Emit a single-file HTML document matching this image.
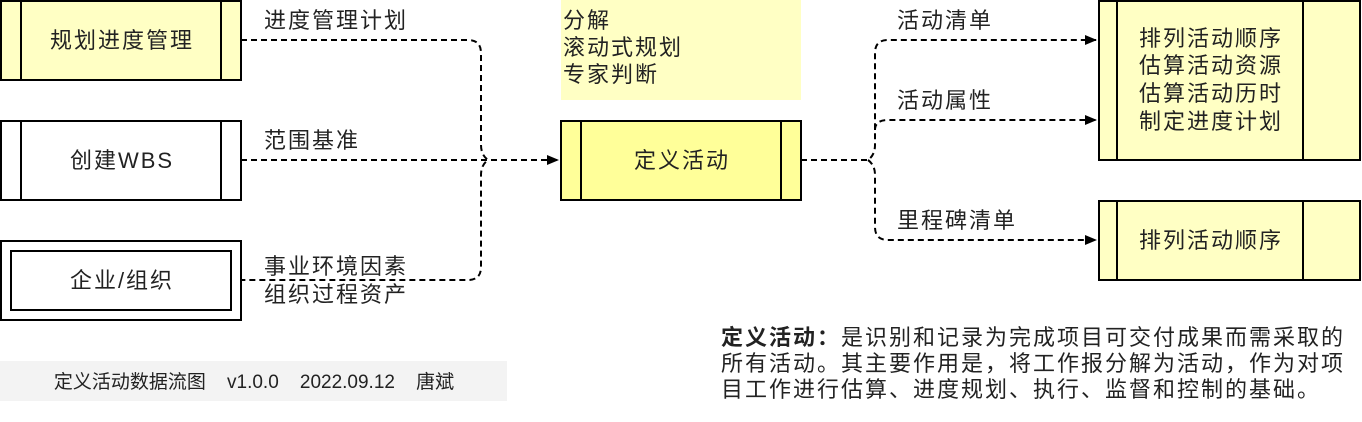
<!DOCTYPE html>
<html><head><meta charset="utf-8"><style>
body{margin:0;width:1362px;height:422px;overflow:hidden;background:#fff;font-family:"Liberation Sans","Noto Sans CJK SC",sans-serif;}
svg text{font-family:"Liberation Sans","Noto Sans CJK SC",sans-serif;fill:#222;}
.desc{position:absolute;left:721px;top:325px;width:634px;font-size:22px;letter-spacing:2px;line-height:26px;color:#222;}
</style></head><body>
<svg width="1362" height="422" style="position:absolute;left:0;top:0">
<defs><marker id="a" markerWidth="12" markerHeight="10" refX="11" refY="5" orient="auto" markerUnits="userSpaceOnUse"><path d="M0,0 L12,5 L0,10 Z" fill="#000"/></marker></defs>
<g stroke="#000" stroke-width="2">
<rect x="1" y="1" width="240" height="79" fill="#ffffc4"/>
<line x1="21" y1="1" x2="21" y2="80"/><line x1="221" y1="1" x2="221" y2="80"/>
<rect x="1" y="121" width="240" height="79" fill="#fff"/>
<line x1="21" y1="121" x2="21" y2="200"/><line x1="221" y1="121" x2="221" y2="200"/>
<rect x="1" y="241" width="240" height="79" fill="#fff"/>
<rect x="11" y="251" width="220" height="59" fill="#fff"/>
<rect x="561" y="121" width="240" height="79" fill="#ffff99"/>
<line x1="581" y1="121" x2="581" y2="200"/><line x1="781" y1="121" x2="781" y2="200"/>
<rect x="1099" y="1" width="261" height="159" fill="#ffffc4"/>
<line x1="1117" y1="1" x2="1117" y2="160"/><line x1="1303" y1="1" x2="1303" y2="160"/>
<rect x="1099" y="201" width="261" height="79" fill="#ffffc4"/>
<line x1="1117" y1="201" x2="1117" y2="280"/><line x1="1303" y1="201" x2="1303" y2="280"/>
</g>
<rect x="561" y="0" width="240" height="100" fill="#ffffc4"/>
<rect x="0" y="361" width="507" height="40" fill="#f3f3f3"/>
<g fill="none" stroke="#000" stroke-width="2" stroke-dasharray="6,4">
<path d="M241,40 H468 Q481,40 481,53 V145 Q481,155 488,160 Q481,165 481,175 V267 Q481,280 468,280 H241"/>
<path d="M241,160 H558" marker-end="url(#a)"/>
<path d="M801,160 H868 Q875,155 875,145 V53 Q875,40 888,40 H1096" marker-end="url(#a)"/>
<path d="M875,130 Q875,120 888,120 H1096" marker-end="url(#a)"/>
<path d="M868,160 Q875,165 875,175 V227 Q875,240 888,240 H1096" marker-end="url(#a)"/>
</g>
<g font-size="22" letter-spacing="2">
<text x="122" y="48" text-anchor="middle">规划进度管理</text>
<text x="122" y="168" text-anchor="middle">创建WBS</text>
<text x="122" y="288" text-anchor="middle">企业/组织</text>
<text x="682" y="168" text-anchor="middle">定义活动</text>
<text x="264" y="28">进度管理计划</text>
<text x="264" y="148">范围基准</text>
<text x="264" y="274">事业环境因素</text>
<text x="264" y="302">组织过程资产</text>
<text x="563" y="28">分解</text>
<text x="563" y="55">滚动式规划</text>
<text x="563" y="82">专家判断</text>
<text x="897" y="28">活动清单</text>
<text x="897" y="108">活动属性</text>
<text x="897" y="228">里程碑清单</text>
<text x="1211" y="46" text-anchor="middle">排列活动顺序</text>
<text x="1211" y="73" text-anchor="middle">估算活动资源</text>
<text x="1211" y="101" text-anchor="middle">估算活动历时</text>
<text x="1211" y="129" text-anchor="middle">制定进度计划</text>
<text x="1211" y="248" text-anchor="middle">排列活动顺序</text>
</g>
<text x="254" y="388" font-size="19" text-anchor="middle" xml:space="preserve">定义活动数据流图    v1.0.0    2022.09.12    唐斌</text>
</svg>
<div class="desc"><b>定义活动：</b>是识别和记录为完成项目可交付成果而需采取的所有活动。其主要作用是，将工作报分解为活动，作为对项目工作进行估算、进度规划、执行、监督和控制的基础。</div>
</body></html>
